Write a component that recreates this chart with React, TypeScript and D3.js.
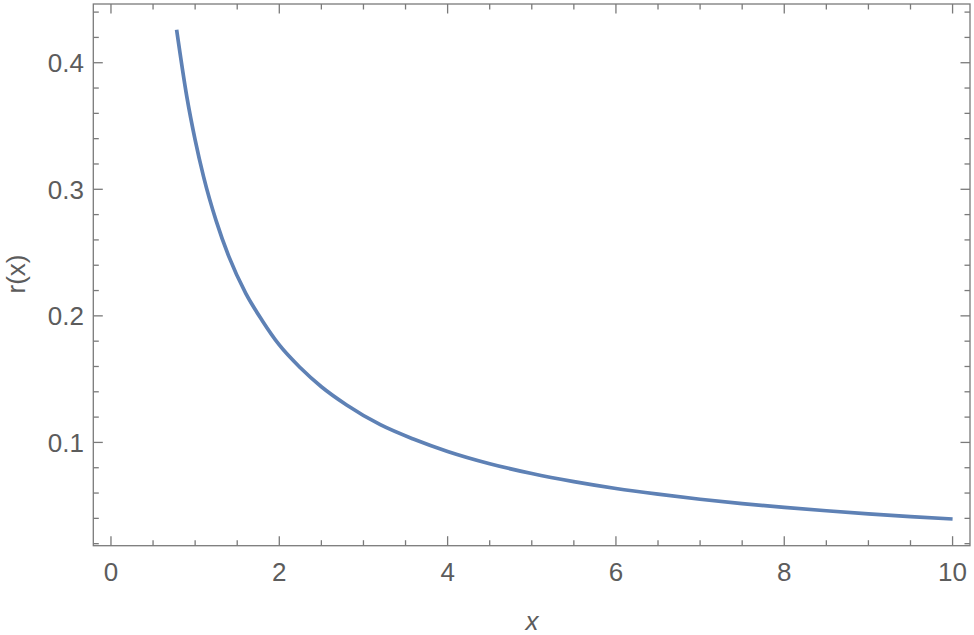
import React from "react";
import * as d3 from "d3";

const xValues = [0.78, 0.9, 1.0, 1.1, 1.25, 1.4, 1.6, 1.8, 2.0, 2.25, 2.5, 2.8, 3.2, 3.6, 4.0, 4.5, 5.0, 5.5, 6.0, 6.5, 7.0, 7.5, 8.0, 8.5, 9.0, 9.5, 10.0];
const rValues = [0.426, 0.3736, 0.339, 0.31, 0.275, 0.247, 0.218, 0.196, 0.177, 0.159, 0.144, 0.1296, 0.114, 0.1025, 0.0929, 0.0832, 0.0754, 0.069, 0.0636, 0.0591, 0.0551, 0.0517, 0.0487, 0.046, 0.0436, 0.0414, 0.0395];
const xMajorTicks = [0, 2, 4, 6, 8, 10];
const xMinorTicks = [0.5, 1, 1.5, 2.5, 3, 3.5, 4.5, 5, 5.5, 6.5, 7, 7.5, 8.5, 9, 9.5];
const yMajorTicks = [0.1, 0.2, 0.3, 0.4];
const yMinorTicks = [0.02, 0.04, 0.06, 0.08, 0.12, 0.14, 0.16, 0.18, 0.22, 0.24, 0.26, 0.28, 0.32, 0.34, 0.36, 0.38, 0.42, 0.44];
const xLabel = "x";
const yLabel = "r(x)";

const W = 974;
const H = 635;
const left = 93.3, right = 970, top = 4, bottom = 545.7;

export default function App() {
  const x = d3.scaleLinear().domain([-0.21, 10.207]).range([left, right]);
  const y = d3.scaleLinear().domain([0.0184, 0.4464]).range([bottom, top]);
  const pts = xValues.map((v, i) => [v, rValues[i]] as [number, number]);
  const line = d3
    .line<[number, number]>()
    .x((d) => x(d[0]))
    .y((d) => y(d[1]))
    .curve(d3.curveMonotoneX);
  const frameColor = "#7a7a7a";
  const textColor = "#5c5c5c";
  const major = 9.5;
  const minor = 5.5;
  const font = "'Liberation Sans', Arial, sans-serif";
  return (
    <svg
      width={W}
      height={H}
      style={{ position: "absolute", left: 0, top: 0, background: "#fff" }}
    >
      <rect x={0} y={0} width={W} height={H} fill="#fff" />
      <path d={line(pts) || ""} fill="none" stroke="#5e81b5" strokeWidth={3.7} />
      <g stroke={frameColor} strokeWidth={1.3}>
        <rect x={left} y={top} width={right - left} height={bottom - top} fill="none" />
        {xMajorTicks.map((t) => (
          <g key={"xM" + t}>
            <line x1={x(t)} x2={x(t)} y1={bottom} y2={bottom - major} />
            <line x1={x(t)} x2={x(t)} y1={top} y2={top + major} />
          </g>
        ))}
        {xMinorTicks.map((t) => (
          <g key={"xm" + t}>
            <line x1={x(t)} x2={x(t)} y1={bottom} y2={bottom - minor} />
            <line x1={x(t)} x2={x(t)} y1={top} y2={top + minor} />
          </g>
        ))}
        {yMajorTicks.map((t) => (
          <g key={"yM" + t}>
            <line x1={left} x2={left + major} y1={y(t)} y2={y(t)} />
            <line x1={right} x2={right - major} y1={y(t)} y2={y(t)} />
          </g>
        ))}
        {yMinorTicks.map((t) => (
          <g key={"ym" + t}>
            <line x1={left} x2={left + minor} y1={y(t)} y2={y(t)} />
            <line x1={right} x2={right - minor} y1={y(t)} y2={y(t)} />
          </g>
        ))}
      </g>
      <g fill={textColor} fontFamily={font} fontSize={26}>
        {xMajorTicks.map((t) => (
          <text key={"xl" + t} x={x(t)} y={581} textAnchor="middle">
            {String(t)}
          </text>
        ))}
        {yMajorTicks.map((t) => (
          <text key={"yl" + t} x={84} y={y(t) + 9.5} textAnchor="end">
            {t.toFixed(1)}
          </text>
        ))}
        <text x={532} y={630} textAnchor="middle" fontStyle="italic">
          {xLabel}
        </text>
        <text
          transform={`translate(25, 274) rotate(-90)`}
          textAnchor="middle"
        >
          {yLabel}
        </text>
      </g>
    </svg>
  );
}
